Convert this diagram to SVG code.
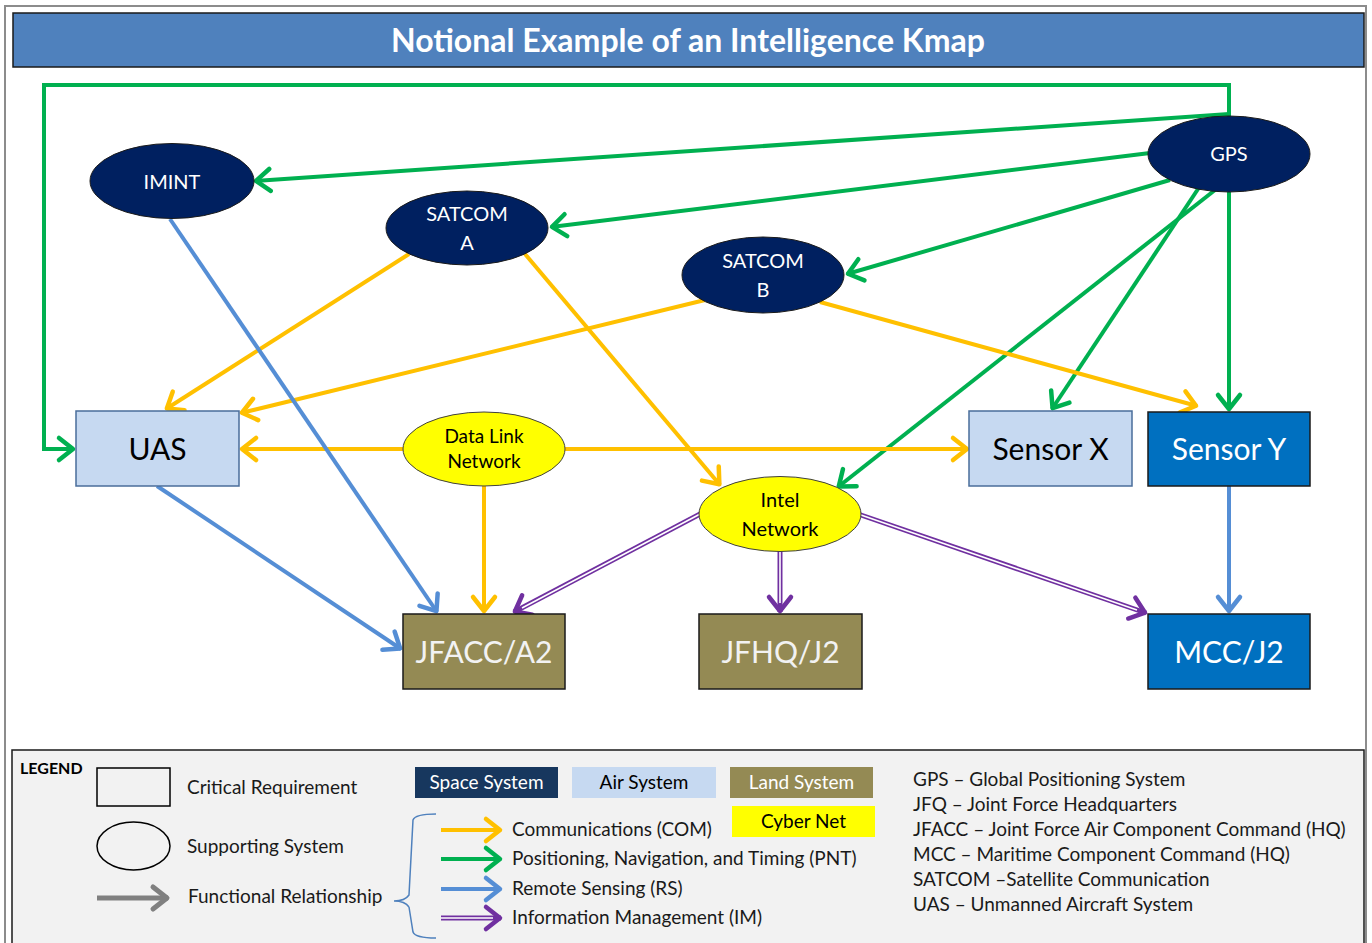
<svg xmlns="http://www.w3.org/2000/svg" width="1372" height="943" viewBox="0 0 1372 943">
<style>
text{font-family:Lato,"Liberation Sans",sans-serif}
.ln{fill:none;stroke-width:4;stroke-linecap:butt}
.o{stroke:#FFC000}.g{stroke:#00B050}.b{stroke:#558ED5}.p{stroke:#7030A0;stroke-width:5}
.pw{fill:none;stroke:#fff;stroke-width:1.6}
.sp{fill:#002060;stroke:#1a1a1a;stroke-width:1}
.cy{fill:#FFFF00;stroke:#404040;stroke-width:1}
.air{fill:#C6D9F1;stroke:#4A6D9A;stroke-width:1.5}
.blu{fill:#0070C0;stroke:#1a1a1a;stroke-width:1.5}
.land{fill:#948A54;stroke:#1a1a1a;stroke-width:1.5}
.te{font-size:20px;fill:#fff;text-anchor:middle}
.ty{font-size:19px;fill:#000;text-anchor:middle}
.tr{font-size:30px;text-anchor:middle}
.lg{font-size:19px;fill:#1a1a1a}
.sw{font-size:19px;text-anchor:middle}
</style>
<defs>
<marker id="mo" markerUnits="userSpaceOnUse" markerWidth="40" markerHeight="40" viewBox="-20 -20 40 40" refX="0" refY="0" orient="auto"><path d="M-15,-11 L-1,0 L-15,11" fill="none" stroke="#FFC000" stroke-width="4.5" stroke-linecap="round" stroke-linejoin="round"/></marker>
<marker id="mg" markerUnits="userSpaceOnUse" markerWidth="40" markerHeight="40" viewBox="-20 -20 40 40" refX="0" refY="0" orient="auto"><path d="M-15,-11 L-1,0 L-15,11" fill="none" stroke="#00B050" stroke-width="4.5" stroke-linecap="round" stroke-linejoin="round"/></marker>
<marker id="mb" markerUnits="userSpaceOnUse" markerWidth="40" markerHeight="40" viewBox="-20 -20 40 40" refX="0" refY="0" orient="auto"><path d="M-15,-11 L-1,0 L-15,11" fill="none" stroke="#558ED5" stroke-width="4.5" stroke-linecap="round" stroke-linejoin="round"/></marker>
<marker id="mp" markerUnits="userSpaceOnUse" markerWidth="40" markerHeight="40" viewBox="-20 -20 40 40" refX="0" refY="0" orient="auto"><path d="M-15,-11 L-1,0 L-15,11" fill="none" stroke="#7030A0" stroke-width="4.5" stroke-linecap="round" stroke-linejoin="round"/></marker>
<marker id="mx" markerUnits="userSpaceOnUse" markerWidth="40" markerHeight="40" viewBox="-20 -20 40 40" refX="0" refY="0" orient="auto"><path d="M-15,-11 L-1,0 L-15,11" fill="none" stroke="#808080" stroke-width="5" stroke-linecap="round" stroke-linejoin="round"/></marker>
</defs>

<rect x="0" y="0" width="1372" height="943" fill="#fff"/>
<rect x="5" y="6" width="1361" height="950" fill="#fff" stroke="#8C8C8C" stroke-width="2"/>

<g id="title">
<rect x="13" y="13" width="1351" height="54" fill="#4F81BD" stroke="#1a1a1a" stroke-width="1.5"/>
<text x="688" y="52" font-size="32" font-weight="bold" fill="#fff" text-anchor="middle">Notional Example of an Intelligence Kmap</text>
</g>

<g id="connectors">
<!-- green PNT -->
<polyline class="ln g" points="1229,120 1229,85 44,85 44,449 74,449" marker-end="url(#mg)"/>
<line class="ln g" x1="1229" y1="114" x2="255" y2="181" marker-end="url(#mg)"/>
<line class="ln g" x1="1150" y1="153" x2="551" y2="227" marker-end="url(#mg)"/>
<line class="ln g" x1="1170" y1="180" x2="847" y2="274" marker-end="url(#mg)"/>
<line class="ln g" x1="1200" y1="186" x2="1052" y2="409" marker-end="url(#mg)"/>
<line class="ln g" x1="1215" y1="190" x2="838" y2="487" marker-end="url(#mg)"/>
<line class="ln g" x1="1229" y1="192" x2="1229" y2="410" marker-end="url(#mg)"/>
<!-- orange COM -->
<line class="ln o" x1="409" y1="254" x2="166" y2="409" marker-end="url(#mo)"/>
<line class="ln o" x1="525" y1="254" x2="720" y2="485" marker-end="url(#mo)"/>
<line class="ln o" x1="705" y1="300" x2="241" y2="413" marker-end="url(#mo)"/>
<line class="ln o" x1="820" y1="302" x2="1197" y2="406" marker-end="url(#mo)"/>
<line class="ln o" x1="403" y1="449" x2="241" y2="449" marker-end="url(#mo)"/>
<line class="ln o" x1="565" y1="449" x2="968" y2="449" marker-end="url(#mo)"/>
<line class="ln o" x1="484" y1="486" x2="484" y2="612" marker-end="url(#mo)"/>
<!-- blue RS -->
<line class="ln b" x1="170" y1="219" x2="437" y2="612" marker-end="url(#mb)"/>
<line class="ln b" x1="157" y1="486" x2="401" y2="649" marker-end="url(#mb)"/>
<line class="ln b" x1="1229" y1="486" x2="1229" y2="612" marker-end="url(#mb)"/>
<!-- purple IM (double) -->
<line class="ln p" x1="702" y1="513" x2="514" y2="612" marker-end="url(#mp)"/>
<line class="pw" x1="702" y1="513" x2="522" y2="608"/>
<line class="ln p" x1="780" y1="550" x2="780" y2="612" marker-end="url(#mp)"/>
<line class="pw" x1="780" y1="550" x2="780" y2="603"/>
<line class="ln p" x1="858" y1="514" x2="1146" y2="613" marker-end="url(#mp)"/>
<line class="pw" x1="858" y1="514" x2="1137" y2="610"/>
</g>

<g id="imint"><ellipse class="sp" cx="172" cy="181" rx="82" ry="37.5"/><text class="te" x="172" y="189">IMINT</text></g>
<g id="satcom-a"><ellipse class="sp" cx="467" cy="228" rx="81" ry="37"/><text class="te" x="467" y="221">SATCOM</text><text class="te" x="467" y="250">A</text></g>
<g id="satcom-b"><ellipse class="sp" cx="763" cy="275" rx="81" ry="38"/><text class="te" x="763" y="268">SATCOM</text><text class="te" x="763" y="297">B</text></g>
<g id="gps"><ellipse class="sp" cx="1229" cy="154" rx="81" ry="38"/><text class="te" x="1229" y="161">GPS</text></g>
<g id="datalink"><ellipse class="cy" cx="484" cy="449" rx="81" ry="37"/><text class="ty" x="484" y="443">Data Link</text><text class="ty" x="484" y="468">Network</text></g>
<g id="intel"><ellipse class="cy" cx="780" cy="514" rx="81" ry="37.5"/><text class="ty" x="780" y="507" style="font-size:20px">Intel</text><text class="ty" x="780" y="536" style="font-size:20px">Network</text></g>

<g id="uas"><rect class="air" x="76" y="411" width="163" height="75"/><text class="tr" x="157.5" y="460" fill="#000">UAS</text></g>
<g id="sensor-x"><rect class="air" x="969" y="411" width="163" height="75"/><text class="tr" x="1050.5" y="460" fill="#000">Sensor X</text></g>
<g id="sensor-y"><rect class="blu" x="1148" y="412" width="162" height="74"/><text class="tr" x="1229" y="460" fill="#fff">Sensor Y</text></g>
<g id="jfacc"><rect class="land" x="403" y="614" width="162" height="75"/><text class="tr" x="484" y="663" fill="#F2F2F2">JFACC/A2</text></g>
<g id="jfhq"><rect class="land" x="699" y="614" width="163" height="75"/><text class="tr" x="780.5" y="663" fill="#F2F2F2">JFHQ/J2</text></g>
<g id="mcc"><rect class="blu" x="1148" y="614" width="162" height="75"/><text class="tr" x="1229" y="663" fill="#fff">MCC/J2</text></g>

<g id="legend">
<rect x="12" y="750" width="1352" height="200" fill="#F2F2F2" stroke="#1a1a1a" stroke-width="1.5"/>
<text x="20" y="774" font-size="16" font-weight="bold" fill="#000">LEGEND</text>
<rect x="97" y="768" width="73" height="38" fill="none" stroke="#000" stroke-width="1.5"/>
<text class="lg" x="187" y="794">Critical Requirement</text>
<ellipse cx="133.5" cy="846" rx="36.5" ry="24" fill="none" stroke="#000" stroke-width="1.5"/>
<text class="lg" x="187" y="853">Supporting System</text>
<line x1="97" y1="898" x2="168" y2="898" stroke="#808080" stroke-width="5" marker-end="url(#mx)"/>
<text class="lg" x="188" y="903">Functional Relationship</text>
<path d="M394,901 Q405,901 409,895 L413,820 Q415,814 436,814 M409,907 L413,932 Q415,938 436,938 M394,901 Q405,901 409,907" fill="none" stroke="#4F81BD" stroke-width="1.5"/>
<line class="ln o" x1="441" y1="830" x2="501" y2="830" marker-end="url(#mo)"/>
<line class="ln g" x1="441" y1="859" x2="501" y2="859" marker-end="url(#mg)"/>
<line class="ln b" x1="441" y1="889" x2="501" y2="889" marker-end="url(#mb)"/>
<line class="ln p" x1="441" y1="918" x2="501" y2="918" marker-end="url(#mp)"/>
<line class="pw" x1="441" y1="918" x2="493" y2="918"/>
<text class="lg" x="512" y="836">Communications (COM)</text>
<text class="lg" x="512" y="865">Positioning, Navigation, and Timing (PNT)</text>
<text class="lg" x="512" y="895">Remote Sensing (RS)</text>
<text class="lg" x="512" y="924">Information Management (IM)</text>
<rect x="415" y="767" width="143" height="31" fill="#17375E"/>
<text class="sw" x="486.5" y="789" fill="#fff">Space System</text>
<rect x="572" y="767" width="144" height="31" fill="#C6D9F1"/>
<text class="sw" x="644" y="789" fill="#000">Air System</text>
<rect x="730" y="767" width="143" height="31" fill="#948A54"/>
<text class="sw" x="801.5" y="789" fill="#fff">Land System</text>
<rect x="732" y="806" width="143" height="31" fill="#FFFF00"/>
<text class="sw" x="803.5" y="828" fill="#000">Cyber Net</text>
<text class="lg" x="913" y="786">GPS – Global Positioning System</text>
<text class="lg" x="913" y="811">JFQ – Joint Force Headquarters</text>
<text class="lg" x="913" y="836">JFACC – Joint Force Air Component Command (HQ)</text>
<text class="lg" x="913" y="861">MCC – Maritime Component Command (HQ)</text>
<text class="lg" x="913" y="886">SATCOM –Satellite Communication</text>
<text class="lg" x="913" y="911">UAS – Unmanned Aircraft System</text>
</g>
</svg>
